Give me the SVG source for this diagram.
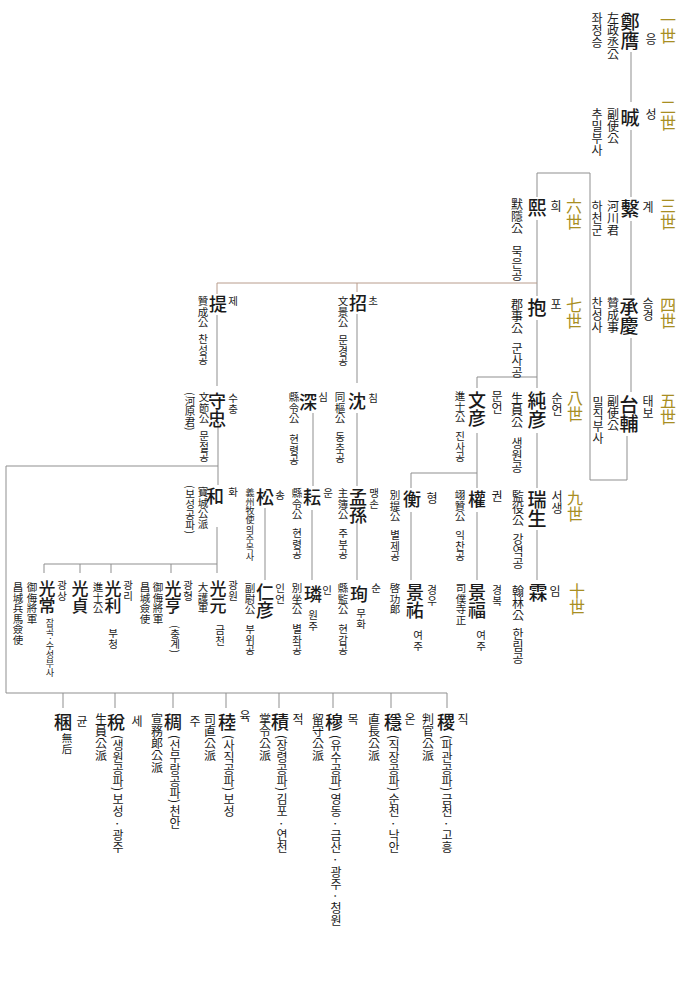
<svg xmlns="http://www.w3.org/2000/svg" width="689" height="1000" viewBox="0 0 689 1000">
<style>
.v{writing-mode:vertical-rl;font-family:"Noto Sans CJK KR","Noto Sans CJK SC",sans-serif;fill:#1a1a1a}
.g{font-size:16px;fill:#a88e22;stroke:#fff;stroke-width:2px;paint-order:stroke}
.n{font-size:18px;font-weight:500}
.t{font-size:12px}
.r{font-size:12px}
.s{font-size:10.5px}
.b{font-size:12px}
.x{font-size:9px}
.ln{stroke:#8f8f8f;stroke-width:1;fill:none}
.lb{stroke:#b89c8c;stroke-width:1;fill:none}
</style>
<rect width="689" height="1000" fill="#fff"/>
<g id="gens">
<text class="v g" x="668" y="12">一世</text>
<text class="v g" x="668" y="99">二世</text>
<text class="v g" x="668" y="198">三世</text>
<text class="v g" x="668" y="297">四世</text>
<text class="v g" x="668" y="393">五世</text>
<text class="v g" x="574" y="198">六世</text>
<text class="v g" x="574" y="297">七世</text>
<text class="v g" x="575" y="390">八世</text>
<text class="v g" x="575" y="490">九世</text>
<text class="v g" x="577" y="583">十世</text>
</g>
<g id="connectors">
<path class="ln" d="M631,52V102M631,130V197M631,221V295M631,338V392"/>
<path class="ln" d="M627,436V480H590V173H537V197"/>
<path class="ln" d="M537,220V296"/>
<path class="lb" d="M537,283H217V294M357,283V292"/>
<path class="ln" d="M537,320V388M537,377H477V388"/>
<path class="ln" d="M537,433V488M477,433V488M477,473H411V488"/>
<path class="ln" d="M537,530V580M477,512V580M411,512V580"/>
<path class="ln" d="M357,314V383M357,413V486M313,413V486M357,522V580M312,510V580M265,508V580"/>
<path class="ln" d="M217,315V386M218,423V485M218,466H6V693H447"/>
<path class="ln" d="M63,693V708M115,693V708M173,693V708M226,693V708M279,693V708M333,693V708M391,693V708M447,693V708"/>
<path class="ln" d="M217,527V573M217,564H44V573M171,564V573M111,564V573M80,564V573"/>
</g>
<g id="n-jeongeung">
<text class="v n" x="630" y="12" style="font-size:19px">鄭膺</text>
<text class="v r" x="651" y="33">응</text>
<text class="v t" x="613" y="12">左政丞公</text>
<text class="v r" x="597" y="12">좌정승</text>
</g>
<g id="n-seong">
<text class="v n" x="630" y="108" style="font-size:19px">晠</text>
<text class="v r" x="651" y="108">성</text>
<text class="v t" x="613" y="108">副使公</text>
<text class="v r" x="597" y="108">추밀부사</text>
</g>
<g id="n-gye">
<text class="v n" x="630" y="199" style="font-size:19px">繫</text>
<text class="v r" x="648" y="201">계</text>
<text class="v t" x="613" y="200">河川君</text>
<text class="v r" x="597" y="200">하천군</text>
</g>
<g id="n-seunggyeong">
<text class="v n" x="629" y="297" style="font-size:19px">承慶</text>
<text class="v r" x="648" y="297">승경</text>
<text class="v t" x="613" y="297">贊成事</text>
<text class="v r" x="597" y="297">찬성사</text>
</g>
<g id="n-taebo">
<text class="v n" x="629" y="395" style="font-size:19px">台輔</text>
<text class="v r" x="648" y="395">태보</text>
<text class="v t" x="613" y="395">副使公</text>
<text class="v r" x="598" y="396">밀직부사</text>
</g>
<g id="n-hui">
<text class="v n" x="537" y="198" style="font-size:19px">熙</text>
<text class="v r" x="556" y="200">희</text>
<text class="v t" x="517" y="198">默隱公</text>
<text class="v r" x="517" y="245">묵은공</text>
</g>
<g id="n-po">
<text class="v n" x="537" y="298" style="font-size:19px">抱</text>
<text class="v r" x="556" y="298">포</text>
<text class="v t" x="517" y="298">郡事公</text>
<text class="v r" x="517" y="342">군사공</text>
</g>
<g id="n-suneon">
<text class="v n" x="537" y="391" style="font-size:19px">純彦</text>
<text class="v r" x="557" y="392">순언</text>
<text class="v t" x="517" y="392">生員公</text>
<text class="v r" x="517" y="437">생원공</text>
</g>
<g id="n-mueon">
<text class="v n" x="477" y="391">文彦</text>
<text class="v r" x="497" y="390">문언</text>
<text class="v s" x="460" y="391">進士公</text>
<text class="v s" x="460" y="431">진사공</text>
</g>
<g id="n-seosaeng">
<text class="v n" x="537" y="490" style="font-size:19px">瑞生</text>
<text class="v r" x="557" y="490">서생</text>
<text class="v t" x="518" y="490">監役公</text>
<text class="v r" x="518" y="533">강역공</text>
</g>
<g id="n-gwon">
<text class="v n" x="477" y="490">權</text>
<text class="v r" x="497" y="490">권</text>
<text class="v s" x="460" y="490">翊贊公</text>
<text class="v s" x="460" y="530">익찬공</text>
</g>
<g id="n-hyeong">
<text class="v n" x="412" y="490">衡</text>
<text class="v r" x="432" y="492">형</text>
<text class="v s" x="395" y="490">別提公</text>
<text class="v s" x="395" y="530">별제공</text>
</g>
<g id="n-im">
<text class="v n" x="538" y="583" style="font-size:19px">霖</text>
<text class="v r" x="555" y="585">임</text>
<text class="v t" x="518" y="585">翰林公</text>
<text class="v r" x="518" y="628">한림공</text>
</g>
<g id="n-gyeongbok">
<text class="v n" x="477" y="583">景福</text>
<text class="v s" x="497" y="585">경복</text>
<text class="v s" x="461" y="583">司僕寺正</text>
<text class="v s" x="481" y="630">여주</text>
</g>
<g id="n-gyeongu">
<text class="v n" x="415" y="583">景祐</text>
<text class="v s" x="432" y="585">경우</text>
<text class="v s" x="395" y="583">啓功郞</text>
<text class="v s" x="418" y="630">여주</text>
</g>
<g id="n-cho">
<text class="v n" x="358" y="294">招</text>
<text class="v s" x="373" y="296">초</text>
<text class="v s" x="343" y="296">文景公</text>
<text class="v s" x="343" y="335">문경공</text>
</g>
<g id="n-chim">
<text class="v n" x="357" y="392">沈</text>
<text class="v s" x="373" y="393">침</text>
<text class="v s" x="340" y="392">同樞公</text>
<text class="v s" x="340" y="432">동추공</text>
</g>
<g id="n-sim">
<text class="v n" x="308" y="393">深</text>
<text class="v s" x="323" y="392">심</text>
<text class="v s" x="294" y="392">縣令公</text>
<text class="v s" x="294" y="434">현령공</text>
</g>
<g id="n-maengson">
<text class="v n" x="358" y="488">孟孫</text>
<text class="v s" x="374" y="488">맹손</text>
<text class="v s" x="343" y="488">主簿公</text>
<text class="v s" x="343" y="528">주부공</text>
</g>
<g id="n-un">
<text class="v n" x="312" y="488">耘</text>
<text class="v s" x="328" y="488">운</text>
<text class="v s" x="297" y="488">縣令公</text>
<text class="v s" x="297" y="528">현령공</text>
</g>
<g id="n-song">
<text class="v n" x="265" y="488">松</text>
<text class="v s" x="280" y="490">송</text>
<text class="v x" x="250" y="488">義州牧使</text>
<text class="v x" x="250" y="525">의주목사</text>
</g>
<g id="n-ineon">
<text class="v n" x="265" y="583">仁彦</text>
<text class="v s" x="280" y="583">인언</text>
<text class="v s" x="250" y="583">副尉公</text>
<text class="v s" x="250" y="624">부위공</text>
</g>
<g id="n-in">
<text class="v n" x="313" y="585">璘</text>
<text class="v s" x="327" y="585">인</text>
<text class="v s" x="297" y="583">別坐公</text>
<text class="v s" x="297" y="624">별좌공</text>
<text class="v s" x="313" y="610">원주</text>
</g>
<g id="n-sun">
<text class="v n" x="359" y="585">珣</text>
<text class="v s" x="376" y="583">순</text>
<text class="v s" x="343" y="583">縣監公</text>
<text class="v s" x="343" y="624">현감공</text>
<text class="v s" x="361" y="608">무화</text>
</g>
<g id="n-je">
<text class="v n" x="218" y="295">提</text>
<text class="v s" x="233" y="296">제</text>
<text class="v s" x="203" y="296">贊成公</text>
<text class="v s" x="203" y="334">찬성공</text>
</g>
<g id="n-suchung">
<text class="v n" x="217" y="392">守忠</text>
<text class="v s" x="233" y="393">수충</text>
<text class="v s" x="204" y="392">文節公</text>
<text class="v s" x="204" y="431">문절공</text>
<text class="v s" x="190" y="392">(河原君)</text>
</g>
<g id="n-hwa">
<text class="v n" x="215" y="487">和</text>
<text class="v s" x="233" y="487">화</text>
<text class="v s" x="203" y="487">寶城公派</text>
<text class="v s" x="190" y="485">(보성공파)</text>
</g>
<g id="n-gwangwon">
<text class="v n" x="218" y="580" style="font-size:17px">光元</text>
<text class="v s" x="233" y="580">광원</text>
<text class="v s" x="203" y="582">大護軍</text>
<text class="v s" x="220" y="625">금천</text>
</g>
<g id="n-gwanghyeong">
<text class="v n" x="173" y="580" style="font-size:17px">光亨</text>
<text class="v s" x="188" y="580">광형</text>
<text class="v s" x="158" y="582">御侮將軍</text>
<text class="v s" x="145" y="582">昌城僉使</text>
<text class="v s" x="175" y="625">(충계)</text>
</g>
<g id="n-gwangri">
<text class="v n" x="113" y="580" style="font-size:17px">光利</text>
<text class="v s" x="128" y="580">광리</text>
<text class="v s" x="98" y="582">進士公</text>
<text class="v s" x="113" y="628">부청</text>
</g>
<g id="n-gwangjeong">
<text class="v n" x="80" y="580" style="font-size:17px">光貞</text>
</g>
<g id="n-gwangsang">
<text class="v n" x="47" y="580" style="font-size:17px">光常</text>
<text class="v s" x="62" y="580">광상</text>
<text class="v s" x="32" y="582">御侮將軍</text>
<text class="v s" x="18" y="582">昌城兵馬僉使</text>
<text class="v x" x="50" y="618">잠곡·수성부사</text>
</g>
<g id="n-jik">
<text class="v n" x="446" y="713">稷</text>
<text class="v r" x="463" y="713">직</text>
<text class="v t" x="428" y="713">判官公派</text>
<text class="v b" x="447" y="735">(파관공파) 금천 · 고흥</text>
</g>
<g id="n-on">
<text class="v n" x="393" y="713">穩</text>
<text class="v r" x="410" y="713">온</text>
<text class="v t" x="374" y="713">直長公派</text>
<text class="v b" x="394" y="735">(직장공파) 순천 · 낙안</text>
</g>
<g id="n-mok">
<text class="v n" x="334" y="713">穆</text>
<text class="v r" x="353" y="713">목</text>
<text class="v t" x="318" y="713">留守公派</text>
<text class="v b" x="336" y="735">(유수공파) 영동 · 금산 · 광주 · 청원</text>
</g>
<g id="n-jeok">
<text class="v n" x="280" y="713">積</text>
<text class="v r" x="298" y="713">적</text>
<text class="v t" x="265" y="713">掌令公派</text>
<text class="v b" x="282" y="735">(장령공파) 김포 · 연천</text>
</g>
<g id="n-yuk">
<text class="v n" x="227" y="713">稑</text>
<text class="v r" x="245" y="710">육</text>
<text class="v t" x="210" y="713">司直公派</text>
<text class="v b" x="229" y="735">(사직공파) 보성</text>
</g>
<g id="n-ju">
<text class="v n" x="173" y="713">稠</text>
<text class="v r" x="195" y="715">주</text>
<text class="v t" x="157" y="713">宣務郞公派</text>
<text class="v b" x="175" y="735">(선무랑공파) 천안</text>
</g>
<g id="n-se">
<text class="v n" x="116" y="713">稅</text>
<text class="v r" x="137" y="715">세</text>
<text class="v t" x="101" y="713">生員公派</text>
<text class="v b" x="118" y="735">(생원공파) 보성 · 광주</text>
</g>
<g id="n-gyun">
<text class="v n" x="63" y="713">稛</text>
<text class="v r" x="82" y="715">균</text>
<text class="v s" x="67" y="733">無后</text>
</g>
</svg>
